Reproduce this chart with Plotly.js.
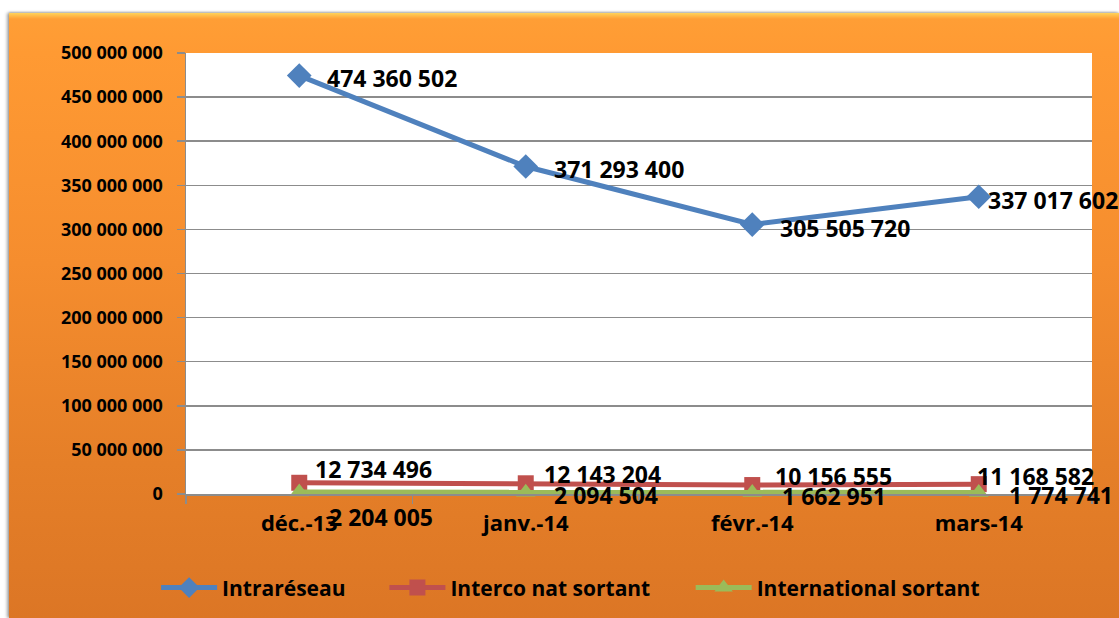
<!DOCTYPE html>
<html>
<head>
<meta charset="utf-8">
<script src="https://cdn.plot.ly/plotly-3.0.1.min.js"></script>
<style>
  html, body { margin: 0; padding: 0; background: #ffffff; width: 1119px; height: 618px; overflow: hidden; }
  #bg { position: absolute; left: 9px; top: 13px; width: 1110px; height: 605px;
        background: linear-gradient(to bottom, #ffd35a 0px, #ff9e35 6px, #ff9a33 40px, #f58d2e 250px, #e57f28 450px, #dc7625 605px);
        box-shadow: -2px 0 3px rgba(0,0,0,0.35), 0 -1px 2px rgba(0,0,0,0.2); }
  #chart { position: absolute; left: 0; top: 0; width: 1119px; height: 618px; }
</style>
</head>
<body>
<div id="bg"></div>
<div id="chart"></div>
<script>
const categories = ["déc.-13", "janv.-14", "févr.-14", "mars-14"];
const intrareseau = [474360502, 371293400, 305505720, 337017602];
const intercoNat = [12734496, 12143204, 10156555, 11168582];
const internationalSortant = [2204005, 2094504, 1662951, 1774741];
const seriesNames = ["Intraréseau", "Interco nat sortant", "International sortant"];
const yTickVals = [0, 50000000, 100000000, 150000000, 200000000, 250000000, 300000000, 350000000, 400000000, 450000000, 500000000];

function fmt(v) {
  return String(v).replace(/\B(?=(\d{3})+(?!\d))/g, " ");
}

const FONT = "Open Sans, sans-serif";
const labelFont = { family: FONT, size: 23, color: "#000000", weight: "bold" };

const traces = [
  {
    x: categories, y: intrareseau, name: seriesNames[0], type: "scatter", mode: "lines+markers",
    line: { color: "#4F81BD", width: 5 }, legend: "legend",
    marker: { symbol: "diamond", size: 19, color: "#4F81BD" }, cliponaxis: false
  },
  {
    x: categories, y: intercoNat, name: seriesNames[1], type: "scatter", mode: "lines+markers",
    line: { color: "#C0504D", width: 5 }, legend: "legend2",
    marker: { symbol: "square", size: 16, color: "#C0504D" }, cliponaxis: false
  },
  {
    x: categories, y: internationalSortant, name: seriesNames[2], type: "scatter", mode: "lines+markers",
    line: { color: "#9BBB59", width: 5 }, legend: "legend3",
    marker: { symbol: "triangle-up", size: 17, color: "#9BBB59" }, cliponaxis: false
  }
];

// label placement (style): pixel offsets from each point
const labelSeries = [
  { values: intrareseau, dx: [27, 27, 27, 8], dy: [-2, -2, -3, -3] },
  { values: intercoNat, dx: [15, 17, 22, -3], dy: [14, 9, 9, 8] },
  { values: internationalSortant, dx: [29, 27, 29, 29], dy: [-25, -3, -3, -3] }
];

const annotations = [];
labelSeries.forEach(s => {
  s.values.forEach((v, i) => {
    annotations.push({
      x: categories[i], y: v, xref: "x", yref: "y",
      text: fmt(v), showarrow: false,
      xanchor: "left", yanchor: "middle",
      xshift: s.dx[i], yshift: s.dy[i],
      font: labelFont, borderpad: 0
    });
  });
});

const legendFont = { family: FONT, size: 21, color: "#000000", weight: "bold" };
function legendAt(x) {
  return {
    orientation: "h", x: x, xanchor: "left", y: -0.213, yanchor: "middle",
    font: legendFont, bgcolor: "rgba(0,0,0,0)", itemwidth: 56
  };
}

const layout = {
  width: 1119, height: 618,
  margin: { l: 186, r: 27, t: 53, b: 124, autoexpand: false },
  paper_bgcolor: "rgba(0,0,0,0)",
  plot_bgcolor: "#ffffff",
  showlegend: true,
  legend: legendAt(-0.033),
  legend2: legendAt(0.219),
  legend3: legendAt(0.557),
  annotations: annotations,
  xaxis: {
    type: "category", range: [-0.5, 3.5], automargin: false,
    showgrid: false, zeroline: false,
    showline: true, linecolor: "#8c8c8c", linewidth: 2,
    ticks: "outside", tickson: "boundaries", ticklen: 8, tickcolor: "#8c8c8c", tickwidth: 1.5,
    ticklabelstandoff: 9,
    tickfont: { family: FONT, size: 22, color: "#000000", weight: "bold" },
    fixedrange: true
  },
  yaxis: {
    range: [0, 500000000], tickvals: yTickVals, ticktext: yTickVals.map(fmt), automargin: false,
    showgrid: true, gridcolor: "#8c8c8c", gridwidth: 1.5, zeroline: false,
    showline: true, linecolor: "#8c8c8c", linewidth: 1.5,
    ticks: "outside", ticklen: 8, tickcolor: "#8c8c8c", tickwidth: 1.5,
    ticklabelstandoff: 10,
    tickfont: { family: FONT, size: 18, color: "#000000", weight: "bold" },
    fixedrange: true
  }
};

Plotly.newPlot("chart", traces, layout, { displayModeBar: false, staticPlot: true });
</script>
</body>
</html>
